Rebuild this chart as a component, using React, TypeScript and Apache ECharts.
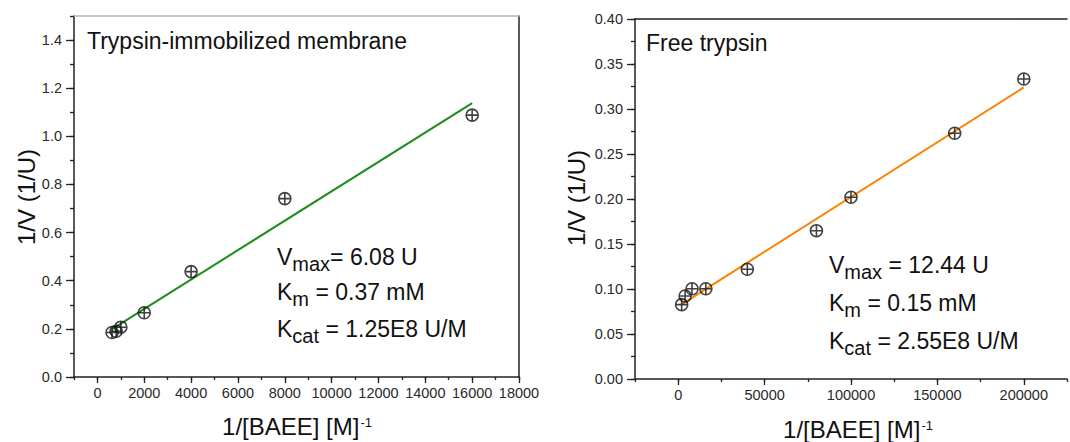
import React, { useEffect, useRef } from "react";
import * as echarts from "echarts";

// ---------- data ----------
const xMembrane = [625, 800, 1000, 2000, 4000, 8000, 16000];
const yMembrane = [0.185, 0.19, 0.207, 0.267, 0.438, 0.741, 1.088];
const fitMembraneX = [625, 16000];
const fitMembraneY = [0.199, 1.138];

const xFree = [2000, 4000, 8000, 16000, 40000, 80000, 100000, 160000, 200000];
const yFree = [0.0826, 0.0922, 0.1003, 0.1003, 0.1219, 0.1648, 0.2019, 0.273, 0.3333];
const fitFreeX = [2000, 200000];
const fitFreeY = [0.083, 0.324];

// major tick values (labelled)
const xTicksL = [0, 2000, 4000, 6000, 8000, 10000, 12000, 14000, 16000, 18000];
const yTicksL = [0, 0.2, 0.4, 0.6, 0.8, 1.0, 1.2, 1.4];
const xTicksR = [0, 50000, 100000, 150000, 200000];
const yTicksR = [0, 0.05, 0.1, 0.15, 0.2, 0.25, 0.3, 0.35, 0.4];

const FONT = "Liberation Sans";
const TICK_COLOR = "#222";
const LABEL_COLOR = "#2a2a2a";
const MARKER =
  "path://M10,0A10,10,0,1,1,-10,0A10,10,0,1,1,10,0ZM-10,0L10,0M0,-10L0,10";

const zip = (a: number[], b: number[]) => a.map((v, i) => [v, b[i]]);
const near = (v: number, list: number[]) => list.some((t) => Math.abs(t - v) < 1e-6 * Math.max(1, Math.abs(t)));

function mainAxis(
  dim: "x" | "y",
  grid: number,
  min: number,
  max: number,
  interval: number,
  majors: number[],
  fmt: (v: number) => string
) {
  return {
    type: "value",
    gridIndex: grid,
    position: dim === "x" ? "bottom" : "left",
    min,
    max,
    interval,
    axisLine: { show: true, onZero: false, lineStyle: { color: "#222", width: 1.5 } },
    axisTick: { show: true, length: dim === "x" ? 3 : 4, lineStyle: { color: TICK_COLOR, width: 1.3 } },
    axisLabel: {
      show: true,
      margin: dim === "x" ? 8 : 12,
      fontSize: 14.5,
      fontFamily: FONT,
      color: LABEL_COLOR,
      formatter: (v: number) => (near(v, majors) ? fmt(v) : ""),
    },
    splitLine: { show: false },
  };
}
function majorAxis(dim: "x" | "y", grid: number, min: number, max: number, majors: number[]) {
  return {
    type: "value",
    gridIndex: grid,
    position: dim === "x" ? "bottom" : "left",
    min,
    max,
    axisLine: { show: false, onZero: false },
    axisTick: { show: true, customValues: majors, length: dim === "x" ? 6 : 8, lineStyle: { color: TICK_COLOR, width: 1.3 } },
    axisLabel: { show: false },
    splitLine: { show: false },
  };
}
function borderAxis(dim: "x" | "y", grid: number, min: number, max: number, color: string) {
  return {
    type: "value",
    gridIndex: grid,
    position: dim === "x" ? "top" : "right",
    min,
    max,
    axisLine: { show: true, onZero: false, lineStyle: { color, width: 1.5 } },
    axisTick: { show: false },
    axisLabel: { show: false },
    splitLine: { show: false },
  };
}

const rich = {
  n: { fontSize: 23, fontFamily: FONT, fill: "#111", color: "#111", lineHeight: 28, verticalAlign: "top" },
  s: { fontSize: 20, fontFamily: FONT, fill: "#111", color: "#111", lineHeight: 28, verticalAlign: "top", padding: [9, 0, 0, 0] },
};

function annot(x: number, y: number, text: string) {
  return {
    type: "text",
    x,
    y: y - 14,
    style: { text, rich, align: "left", verticalAlign: "top", fontFamily: FONT },
  };
}

const axisRich = {
  a: { fontSize: 24, fontFamily: FONT, color: "#111", fill: "#111", lineHeight: 30, verticalAlign: "top" },
  b: { fontSize: 13, fontFamily: FONT, color: "#111", fill: "#111", lineHeight: 16, verticalAlign: "top", padding: [2, 0, 0, 1] },
};

export default function App() {
  const ref = useRef<HTMLDivElement>(null);
  useEffect(() => {
    if (!ref.current) return;
    const chart = echarts.init(ref.current, undefined, { renderer: "svg" });
    const option: any = {
      animation: false,
      backgroundColor: "#ffffff",
      grid: [
        { left: 74, top: 16, width: 445, height: 361 },
        { left: 635, top: 19, width: 445, height: 360 },
      ],
      xAxis: [
        mainAxis("x", 0, -1000, 18000, 1000, xTicksL, (v) => String(v)),
        majorAxis("x", 0, -1000, 18000, xTicksL),
        borderAxis("x", 0, -1000, 18000, "#b5b5b5"),
        mainAxis("x", 1, -25000, 225000, 25000, xTicksR, (v) => String(v)),
        majorAxis("x", 1, -25000, 225000, xTicksR),
        borderAxis("x", 1, -25000, 225000, "#222"),
      ],
      yAxis: [
        mainAxis("y", 0, 0, 1.5, 0.1, yTicksL, (v) => v.toFixed(1)),
        majorAxis("y", 0, 0, 1.5, yTicksL),
        borderAxis("y", 0, 0, 1.5, "#222"),
        mainAxis("y", 1, 0, 0.4, 0.025, yTicksR, (v) => v.toFixed(2)),
        majorAxis("y", 1, 0, 0.4, yTicksR),
      ],
      series: [
        {
          type: "line",
          xAxisIndex: 0,
          yAxisIndex: 0,
          data: zip(fitMembraneX, fitMembraneY),
          symbol: "none",
          lineStyle: { color: "#1c8c1c", width: 2 },
          z: 2,
        },
        {
          type: "scatter",
          xAxisIndex: 0,
          yAxisIndex: 0,
          data: zip(xMembrane, yMembrane),
          symbol: MARKER,
          symbolSize: 12,
          itemStyle: { color: "rgba(0,0,0,0)", borderColor: "#111", borderWidth: 1.6 },
          z: 3,
        },
        {
          type: "line",
          xAxisIndex: 3,
          yAxisIndex: 3,
          data: zip(fitFreeX, fitFreeY),
          symbol: "none",
          lineStyle: { color: "#ff8000", width: 2 },
          z: 2,
        },
        {
          type: "scatter",
          xAxisIndex: 3,
          yAxisIndex: 3,
          data: zip(xFree, yFree),
          symbol: MARKER,
          symbolSize: 12,
          itemStyle: { color: "rgba(0,0,0,0)", borderColor: "#111", borderWidth: 1.6 },
          z: 3,
        },
      ],
      graphic: [
        {
          type: "text",
          x: 87,
          y: 41,
          style: { text: "Trypsin-immobilized membrane", fontSize: 23, fontFamily: FONT, fill: "#111", align: "left", verticalAlign: "middle" },
        },
        {
          type: "text",
          x: 646,
          y: 43,
          style: { text: "Free trypsin", fontSize: 23, fontFamily: FONT, fill: "#111", align: "left", verticalAlign: "middle" },
        },
        annot(277, 259, "{n|V}{s|max}{n|= 6.08 U}"),
        annot(277, 294, "{n|K}{s|m}{n| = 0.37 mM}"),
        annot(277, 331, "{n|K}{s|cat}{n| = 1.25E8 U/M}"),
        annot(829, 267, "{n|V}{s|max}{n| = 12.44 U}"),
        annot(829, 305, "{n|K}{s|m}{n| = 0.15 mM}"),
        annot(829, 343, "{n|K}{s|cat}{n| = 2.55E8 U/M}"),
        {
          type: "text",
          x: 26,
          y: 197,
          rotation: Math.PI / 2,
          style: { text: "1/V (1/U)", fontSize: 24, fontFamily: FONT, fill: "#111", align: "center", verticalAlign: "middle" },
        },
        {
          type: "text",
          x: 576,
          y: 198,
          rotation: Math.PI / 2,
          style: { text: "1/V (1/U)", fontSize: 24, fontFamily: FONT, fill: "#111", align: "center", verticalAlign: "middle" },
        },
        {
          type: "text",
          x: 297,
          y: 414,
          style: { text: "{a|1/[BAEE] [M]}{b|-1}", rich: axisRich, align: "center", verticalAlign: "top" },
        },
        {
          type: "text",
          x: 858,
          y: 417,
          style: { text: "{a|1/[BAEE] [M]}{b|-1}", rich: axisRich, align: "center", verticalAlign: "top" },
        },
      ],
    };
    chart.setOption(option);
    return () => chart.dispose();
  }, []);
  return (
    <div
      ref={ref}
      style={{ position: "absolute", left: 0, top: 0, width: 1070, height: 442, background: "#fff" }}
    />
  );
}
